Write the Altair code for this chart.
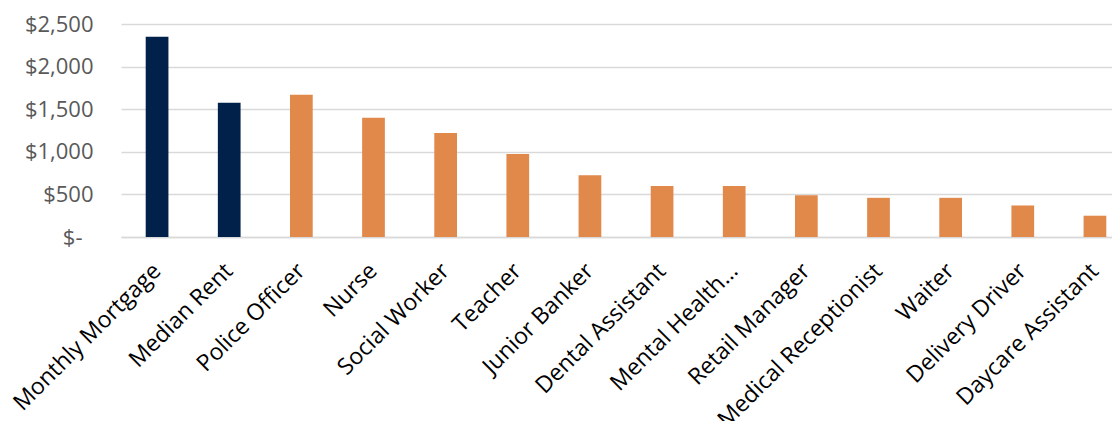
import altair as alt
import pandas as pd

categories = ["Monthly Mortgage", "Median Rent", "Police Officer", "Nurse", "Social Worker",
              "Teacher", "Junior Banker", "Dental Assistant", "Mental Health…", "Retail Manager",
              "Medical Receptionist", "Waiter", "Delivery Driver", "Daycare Assistant"]
values = [2350, 1575, 1670, 1400, 1220, 975, 725, 600, 600, 490, 460, 460, 370, 250]
groups = ["housing", "housing"] + ["job"] * 12

df = pd.DataFrame({"cat": categories, "value": values, "group": groups})

chart = alt.Chart(df).mark_bar().encode(
    x=alt.X("cat:N", sort=categories, title=None,
            scale=alt.Scale(range=[0, 1010], paddingInner=0.685, paddingOuter=0.3425),
            axis=alt.Axis(labelAngle=-45, labelAlign="right", labelBaseline="middle",
                          labelFontSize=23, labelFont="Open Sans", labelColor="#000000",
                          labelPadding=30, ticks=False, domain=True, domainColor="#d9d9d9",
                          domainWidth=1.5, labelOverlap=False, labelLimit=0, grid=False)),
    y=alt.Y("value:Q", title=None,
            scale=alt.Scale(domain=[0, 2500], nice=False),
            axis=alt.Axis(values=[0, 500, 1000, 1500, 2000, 2500],
                          labelExpr="datum.value == 0 ? '$-' : '$' + format(datum.value, ',')",
                          labelFontSize=22, labelFont="Open Sans", labelColor="#595959",
                          labelPadding={"condition": {"test": "datum.value == 0", "value": 39},
                                        "value": 28},
                          ticks=False, domain=False,
                          gridColor="#d9d9d9", gridWidth=1.5)),
    color=alt.Color("group:N", legend=None,
                    scale=alt.Scale(domain=["housing", "job"], range=["#01204A", "#E0894B"])),
).properties(
    width=991, height=213,
    autosize=alt.AutoSizeParams(type="none"),
    padding={"left": 113, "top": 16, "right": 0, "bottom": 184},
).configure_view(stroke=None)

chart.save("out.html", embed_options={"renderer": "svg", "actions": False})
